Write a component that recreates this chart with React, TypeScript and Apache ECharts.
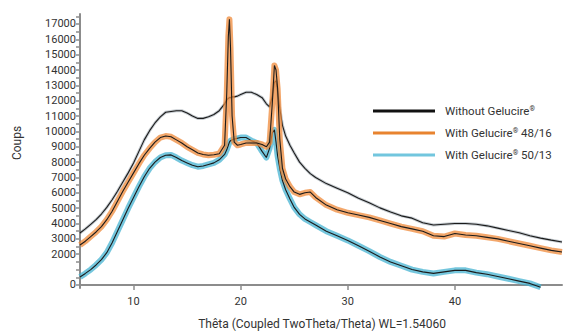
import React, { useEffect, useRef } from "react";
import * as echarts from "echarts";

const angles = [
  5, 5.5, 6, 6.5, 7, 7.5, 8, 8.5, 9, 9.5, 10, 10.5, 11, 11.5, 12, 12.5, 13, 13.5, 14, 14.5, 15, 15.5, 16, 16.5, 17, 17.5, 18,
  18.5, 18.7, 18.85, 18.95, 19.05, 19.2, 19.4, 19.7, 20, 20.5, 21, 21.5, 22, 22.4, 22.7, 22.95, 23.15, 23.3, 23.45, 23.65, 23.9,
  24.2, 24.6, 25, 25.5, 26, 26.5, 27, 28, 29, 30, 31, 32, 33, 34, 35, 36, 37, 38, 39, 40, 41, 42, 43, 44, 45, 46, 47, 48, 49, 50,
];

const withoutGelucire = [
  3380, 3650, 3950, 4250, 4620, 5050, 5550, 6100, 6700, 7300, 7950, 8700, 9450, 10050, 10550, 10950, 11250, 11300, 11350, 11350,
  11200, 11000, 10850, 10850, 10950, 11100, 11350,
  11800, 12050, 12150, 12200, 12200, 12250, 12250, 12300, 12400, 12550, 12550, 12400, 12200, 11800, 11600, 12300, 13200, 13300,
  12600, 11500, 10400,
  9700, 9100, 8600, 8000, 7600, 7250, 7000, 6600, 6300, 6000, 5650, 5350, 5020, 4750, 4500, 4350, 4050, 3900, 3950, 4000, 4000,
  3950, 3850, 3700, 3550, 3400, 3200, 3050, 2920, 2800,
];

const gelucire4816 = [
  2600, 2850, 3150, 3450, 3800, 4250, 4800, 5450, 6100, 6700, 7300, 7900, 8450, 8900, 9300, 9600, 9700, 9650, 9450, 9250, 9000,
  8800, 8600, 8500, 8450, 8480, 8550,
  9100, 12500, 16200, 17300, 15500, 11000, 9300, 9100, 9150, 9250, 9250, 9250, 9150, 9000, 9300, 11800, 14300, 14000, 12800, 9500,
  7600,
  6900, 6400, 6050, 5900, 6000, 6050, 5700, 5200, 4900, 4700, 4550, 4400, 4200, 4000, 3800, 3650, 3500, 3200, 3150, 3350, 3250,
  3200, 3100, 3000, 2850, 2700, 2550, 2400, 2250, 2150,
];

const gelucire5013 = [
  520, 750, 1000, 1300, 1650, 2100, 2750, 3500, 4250, 5000, 5700, 6400, 7050, 7600, 8000, 8300, 8450, 8470, 8300, 8100, 7950,
  7800, 7700, 7750, 7850, 7950, 8150,
  8500, 8800, 9100, 9300, 9400, 9450, 9500, 9550, 9600, 9600, 9400, 9250, 8700, 8300, 8900, 9900, 10100, 9300, 8400, 7600, 6800,
  6200, 5600, 5050, 4600, 4300, 4100, 3900, 3500, 3200, 2900, 2550, 2200, 1820, 1500, 1250, 1000, 850, 750, 850, 950, 950, 800,
  700, 550, 400, 250, 100, -150, null, null,
];

const seriesNames = ["Without Gelucire®", "With Gelucire® 48/16", "With Gelucire® 50/13"];
const yTickLabels = [0, 2000, 3000, 4000, 5000, 6000, 7000, 8000, 9000, 10000, 11000, 12000, 13000, 14000, 15000, 16000, 17000];
const yTickMarks = [
  0, 500, 1000, 1500, 2000, 2500, 3000, 3500, 4000, 4500, 5000, 5500, 6000, 6500, 7000, 7500, 8000, 8500, 9000, 9500, 10000,
  10500, 11000, 11500, 12000, 12500, 13000, 13500, 14000, 14500, 15000, 15500, 16000, 16500, 17000, 17500,
];
const xTicks = [10, 20, 30, 40];
const xTitle = "Thêta (Coupled TwoTheta/Theta) WL=1.54060";
const yTitle = "Coups";

const zip = (ys: (number | null)[]) => angles.map((a, i) => [a, ys[i]]);

export default function App() {
  const ref = useRef<HTMLDivElement>(null);
  useEffect(() => {
    if (!ref.current) return;
    const chart = echarts.init(ref.current, null, { renderer: "svg" });
    const font = "Roboto";
    const axisColor = "#8c8c8c";
    const mk = (name: string, data: (number | null)[], halo: string, haloW: number, haloOp: number) => [
      {
        name,
        type: "line",
        data: zip(data),
        showSymbol: false,
        silent: true,
        clip: true,
        lineStyle: { color: halo, width: haloW, opacity: haloOp, join: "round" },
        itemStyle: { color: halo },
      },
      {
        name,
        type: "line",
        data: zip(data),
        showSymbol: false,
        silent: true,
        clip: true,
        lineStyle: { color: "#1b1b1b", width: 1.1 },
        itemStyle: { color: "#1b1b1b" },
      },
    ];
    chart.setOption({
      animation: false,
      backgroundColor: "#ffffff",
      grid: { left: 80, right: 1, top: 14, bottom: 43, containLabel: false },
      legend: {
        orient: "vertical",
        left: 368,
        top: 99,
        itemWidth: 62,
        itemHeight: 3,
        itemGap: 8,
        icon: "rect",
        data: [
          { name: seriesNames[0], itemStyle: { color: "#111111" } },
          { name: seriesNames[1], itemStyle: { color: "#e8832f" } },
          { name: seriesNames[2], itemStyle: { color: "#72c6de" } },
        ],
        formatter: (n: string) => n.replace("®", "{s|®}"),
        textStyle: {
          fontFamily: font,
          fontSize: 11.5,
          color: "#333333",
          lineHeight: 14,
          padding: [0, 0, 0, 5],
          rich: { s: { fontFamily: font, fontSize: 7, color: "#333333", padding: [0, 0, 5, 0], lineHeight: 14 } },
        },
      },
      xAxis: {
        type: "value",
        min: 5,
        max: 50,
        splitLine: { show: false },
        axisLine: { lineStyle: { color: axisColor, width: 2 } },
        axisTick: { customValues: xTicks, length: 5, inside: false, lineStyle: { color: axisColor, width: 1.5 } },
        axisLabel: { customValues: xTicks, fontFamily: font, fontSize: 11, color: "#333333", margin: 8 },
      },
      yAxis: {
        type: "value",
        min: -200,
        max: 17650,
        splitLine: { show: false },
        axisLine: { show: true, lineStyle: { color: axisColor, width: 2 } },
        axisTick: { show: true, customValues: yTickMarks, length: 4, lineStyle: { color: axisColor, width: 1.5 } },
        axisLabel: {
          customValues: yTickLabels,
          formatter: (v: number) => String(v),
          fontFamily: font,
          fontSize: 11,
          color: "#333333",
          margin: 4,
        },
      },
      graphic: [
        {
          type: "text",
          x: 17,
          y: 143,
          rotation: Math.PI / 2,
          style: { text: yTitle, fontFamily: font, fontSize: 12, fill: "#333333", align: "center", verticalAlign: "middle" },
        },
        {
          type: "text",
          x: 322,
          y: 324,
          style: { text: xTitle, fontFamily: font, fontSize: 12, fill: "#333333", align: "center", verticalAlign: "middle" },
        },
      ],
      series: [
        ...mk(seriesNames[0], withoutGelucire, "#5a6a78", 3, 0.35),
        ...mk(seriesNames[2], gelucire5013, "#45b3d2", 6, 0.75),
        ...mk(seriesNames[1], gelucire4816, "#ef8a3a", 6, 0.75),
      ],
    });
    return () => chart.dispose();
  }, []);
  return <div ref={ref} style={{ position: "fixed", left: 0, top: 0, width: 563, height: 331 }} />;
}
